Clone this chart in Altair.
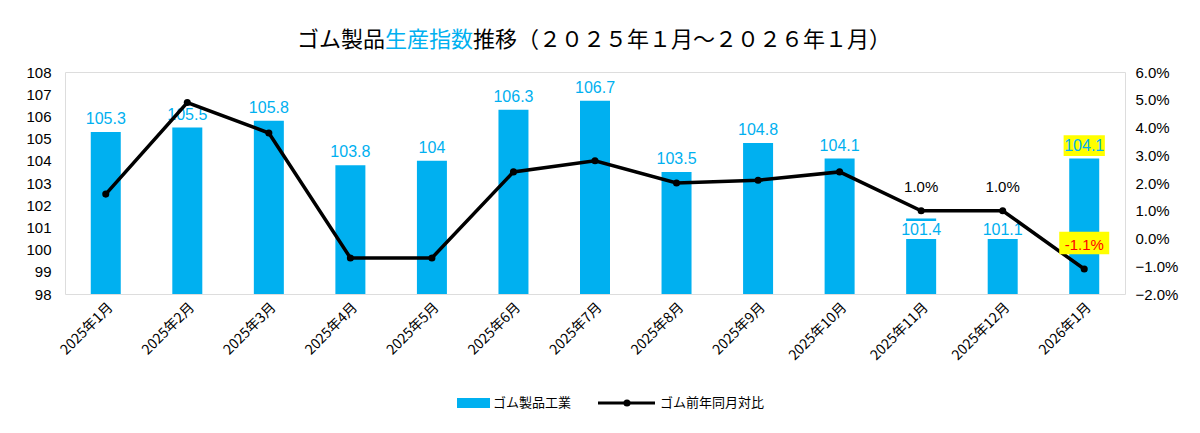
import pandas as pd
import altair as alt

months = ["2025年1月", "2025年2月", "2025年3月", "2025年4月", "2025年5月", "2025年6月", "2025年7月",
          "2025年8月", "2025年9月", "2025年10月", "2025年11月", "2025年12月", "2026年1月"]
index_values = [105.3, 105.5, 105.8, 103.8, 104.0, 106.3, 106.7, 103.5, 104.8, 104.1, 101.4, 101.1, 104.1]
index_labels = ["105.3", "105.5", "105.8", "103.8", "104", "106.3", "106.7", "103.5", "104.8", "104.1", "101.4", "101.1", "104.1"]
yoy_values = [0.016, 0.049, 0.038, -0.007, -0.007, 0.024, 0.028, 0.020, 0.021, 0.024, 0.010, 0.010, -0.011]

CYAN = "#00B0F0"
df = pd.DataFrame({"month": months, "idx": index_values, "lab": index_labels, "yoy": yoy_values})
# labels of Nov/Dec sit inside the bar
df["lab_y"] = [v if i < 10 or i == 12 else 100.3 for i, v in enumerate(index_values)]
df["yoy_lab"] = ["" if i < 10 else ("-1.1%" if v < 0 else "1.0%") for i, v in enumerate(yoy_values)]

x = alt.X("month:N", sort=months, title=None,
          axis=alt.Axis(labelAngle=-45, labelFontSize=14, labelColor="#000", domain=False, ticks=False,
                        labelFont="Noto Sans CJK JP", labelPadding=6, labelLimit=200))
yl_scale = alt.Scale(domain=[98, 108], zero=False)
yl_axis = alt.Axis(values=list(range(98, 109)), labelFontSize=15, labelColor="#000", domain=False,
                   ticks=False, grid=False, labelPadding=14)
yl = alt.Y("idx:Q", scale=yl_scale, title=None, axis=yl_axis)
yl_lab = alt.Y("lab_y:Q", scale=yl_scale, title=None, axis=yl_axis)
base = alt.Chart(df)

bars = base.mark_bar(color=CYAN, width=30, clip=True).encode(x=x, y=yl, y2=alt.datum(98))
white_box = base.transform_filter("datum.lab_y == 100.3").mark_point(
    shape="M-1,-0.45H1V0.45H-1Z", size=1600, filled=True, color="white", opacity=1, yOffset=-13
).encode(x=x, y=yl_lab)
yellow_box = base.transform_filter("datum.month == '2026年1月'").mark_point(
    shape="M-1,-0.5H1V0.5H-1Z", size=1700, filled=True, color="#FFFF00", opacity=1, yOffset=-13
).encode(x=x, y=yl_lab)
bar_text = base.mark_text(color=CYAN, fontSize=16, dy=-13, font="Liberation Sans").encode(
    x=x, y=yl_lab, text="lab:N")

yr_scale = alt.Scale(domain=[-0.02, 0.06], zero=False)
yr_axis = alt.Axis(orient="right", format=".1%", values=[i / 100 for i in range(-2, 7)],
                   labelFontSize=15, labelColor="#000", domain=False, ticks=False, grid=False,
                   labelPadding=10)
yr = alt.Y("yoy:Q", scale=yr_scale, title=None, axis=yr_axis)
line = base.mark_line(color="black", strokeWidth=3.5, point=alt.OverlayMarkDef(color="black", size=50)).encode(x=x, y=yr)
red_box = base.transform_filter("datum.month == '2026年1月'").mark_point(
    shape="M-1,-0.45H1V0.45H-1Z", size=2500, filled=True, color="#FFFF00", opacity=1, yOffset=-26
).encode(x=x, y=yr)
yoy_text = base.mark_text(fontSize=15, dy=-24, font="Liberation Sans").encode(
    x=x, y=yr, text="yoy_lab:N",
    color=alt.condition("datum.yoy < 0", alt.value("red"), alt.value("black")))

t = pd.DataFrame({"s": ["ゴム製品", "生産指数", "推移（２０２５年１月～２０２６年１月）"],
                  "x": [232, 320, 408], "c": ["black", CYAN, "black"]})
title = alt.Chart(t).mark_text(align="left", fontSize=22, font="Noto Sans CJK JP", y=-32).encode(
    x=alt.X("x:Q", scale=None), text="s:N", color=alt.Color("c:N", scale=None))

lg = pd.DataFrame({"s": ["ゴム製品工業", "ゴム前年同月対比"], "x": [428, 595]})
leg_text = alt.Chart(lg).mark_text(align="left", fontSize=13, font="Noto Sans CJK JP", y=331).encode(
    x=alt.X("x:Q", scale=None), text="s:N")
leg_bar = alt.Chart(lg.iloc[:1]).mark_rect(color=CYAN).encode(
    x=alt.value(392), x2=alt.value(425), y=alt.value(326), y2=alt.value(336))
leg_line = alt.Chart(lg.iloc[:1]).mark_rule(color="black", strokeWidth=3).encode(
    x=alt.value(533), x2=alt.value(590), y=alt.value(331))
leg_pt = alt.Chart(lg.iloc[:1]).mark_point(color="black", filled=True, size=50, opacity=1).encode(
    x=alt.value(562), y=alt.value(331))

chart = alt.layer(
    alt.layer(bars, white_box, yellow_box, bar_text),
    alt.layer(line, red_box, yoy_text),
    title, leg_bar, leg_line, leg_pt, leg_text,
).resolve_scale(y="independent").properties(
    width=1060, height=222, autosize=alt.AutoSizeParams(type="none"),
    padding={"left": 57, "top": 64, "right": 67, "bottom": 131},
).configure_view(stroke=None).configure(background="white")

chart.save("out.html", embed_options={"renderer": "svg", "actions": False})
